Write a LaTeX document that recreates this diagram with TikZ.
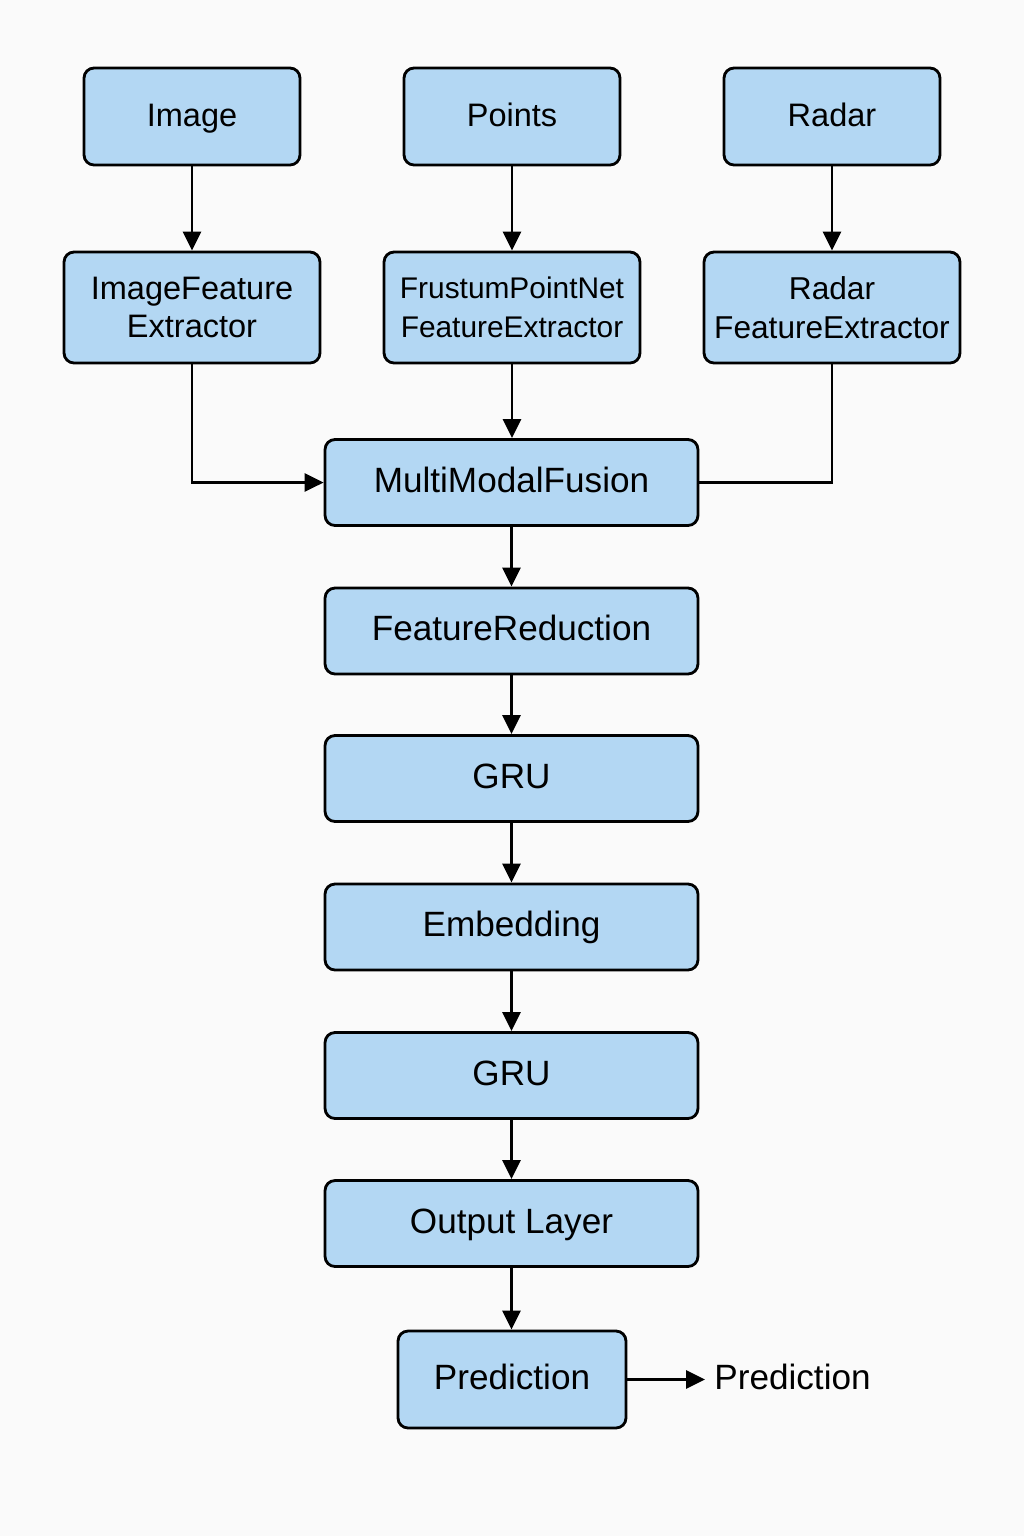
\documentclass[tikz,border=0pt]{standalone}
\usepackage{fontspec}
\setmainfont{Liberation Sans}
\usepackage{tikz}
\usetikzlibrary{arrows.meta, positioning}

\definecolor{boxblue}{HTML}{B3D7F3}
\definecolor{paper}{HTML}{FAFAFA}

\begin{document}
\begin{tikzpicture}[x=0.02cm, y=-0.02cm, ->, >={Triangle[length=0.38cm,width=0.36cm]}, line width=1.6pt, draw=black]
\tikzstyle{block}=[rectangle, rounded corners=0.2cm, draw=black, fill=boxblue, align=center, inner sep=0pt, font=\fontsize{20}{22}\selectfont]
\tikzstyle{one line}=[text height=14pt, text depth=3pt]
\tikzstyle{input block}=[block, one line, minimum width=4.32cm, minimum height=1.94cm, font=\fontsize{18.5}{22}\selectfont];
\tikzstyle{extract block}=[block, minimum width=5.12cm, minimum height=2.22cm, font=\fontsize{18.5}{22}\selectfont];
\tikzstyle{stage block}=[block, one line, minimum width=7.46cm, minimum height=1.72cm];
\tikzstyle{pred block}=[block, one line, minimum width=4.56cm, minimum height=1.94cm];

% Fix the page size
\fill[paper] (0,0) rectangle (1024,1536);
\useasboundingbox (0,0) rectangle (1024,1536);

% Specify the distance between columns
\def\colsep{320}

% Draw the input nodes
\foreach \name/\x/\txt in {img/192/Image, pts/512/Points, rad/832/Radar}
  \node[input block] (\name) at (\x,116.5) {\txt};

% Draw the feature extractor nodes
\node[extract block] (img-fe) at (192,307.5) {ImageFeature\\Extractor};
\node[extract block, font=\fontsize{17}{22}\selectfont] (pts-fe) at (192+\colsep,307.5) {FrustumPointNet\\FeatureExtractor};
\node[extract block, font=\fontsize{18}{22}\selectfont] (rad-fe) at (192+2*\colsep,307.5) {Radar\\FeatureExtractor};

% Draw the stages of the main column
\foreach \name/\y/\txt in {fuse/482.5/MultiModalFusion, reduce/631/FeatureReduction, gru-1/778.5/GRU, embed/927/Embedding, gru-2/1075.5/GRU, out/1223.5/Output Layer}
  \node[stage block] (\name) at (511.5,\y) {\txt};

% Draw the prediction node and its output
\node[pred block] (pred) at (512,1379.5) {Prediction};
\node[font=\fontsize{20}{22}\selectfont, one line, inner sep=0.16cm, anchor=west] (pred-out) at (705,1379.5) {Prediction};

% Connect every input with its feature extractor
\foreach \source/\dest in {img/img-fe, pts/pts-fe, rad/rad-fe}
  \path (\source) edge (\dest);

% Connect the feature extractors with the fusion node
\draw (img-fe) |- (fuse);
\draw (pts-fe) -- (pts-fe |- fuse.north);
\draw[-] (rad-fe) |- (fuse);

% Connect the stages of the main column
\foreach \source/\dest in {fuse/reduce, reduce/gru-1, gru-1/embed, embed/gru-2, gru-2/out, out/pred}
  \path (\source) edge (\source |- \dest.north);

\draw (pred) -- (pred-out);

\end{tikzpicture}
\end{document}
